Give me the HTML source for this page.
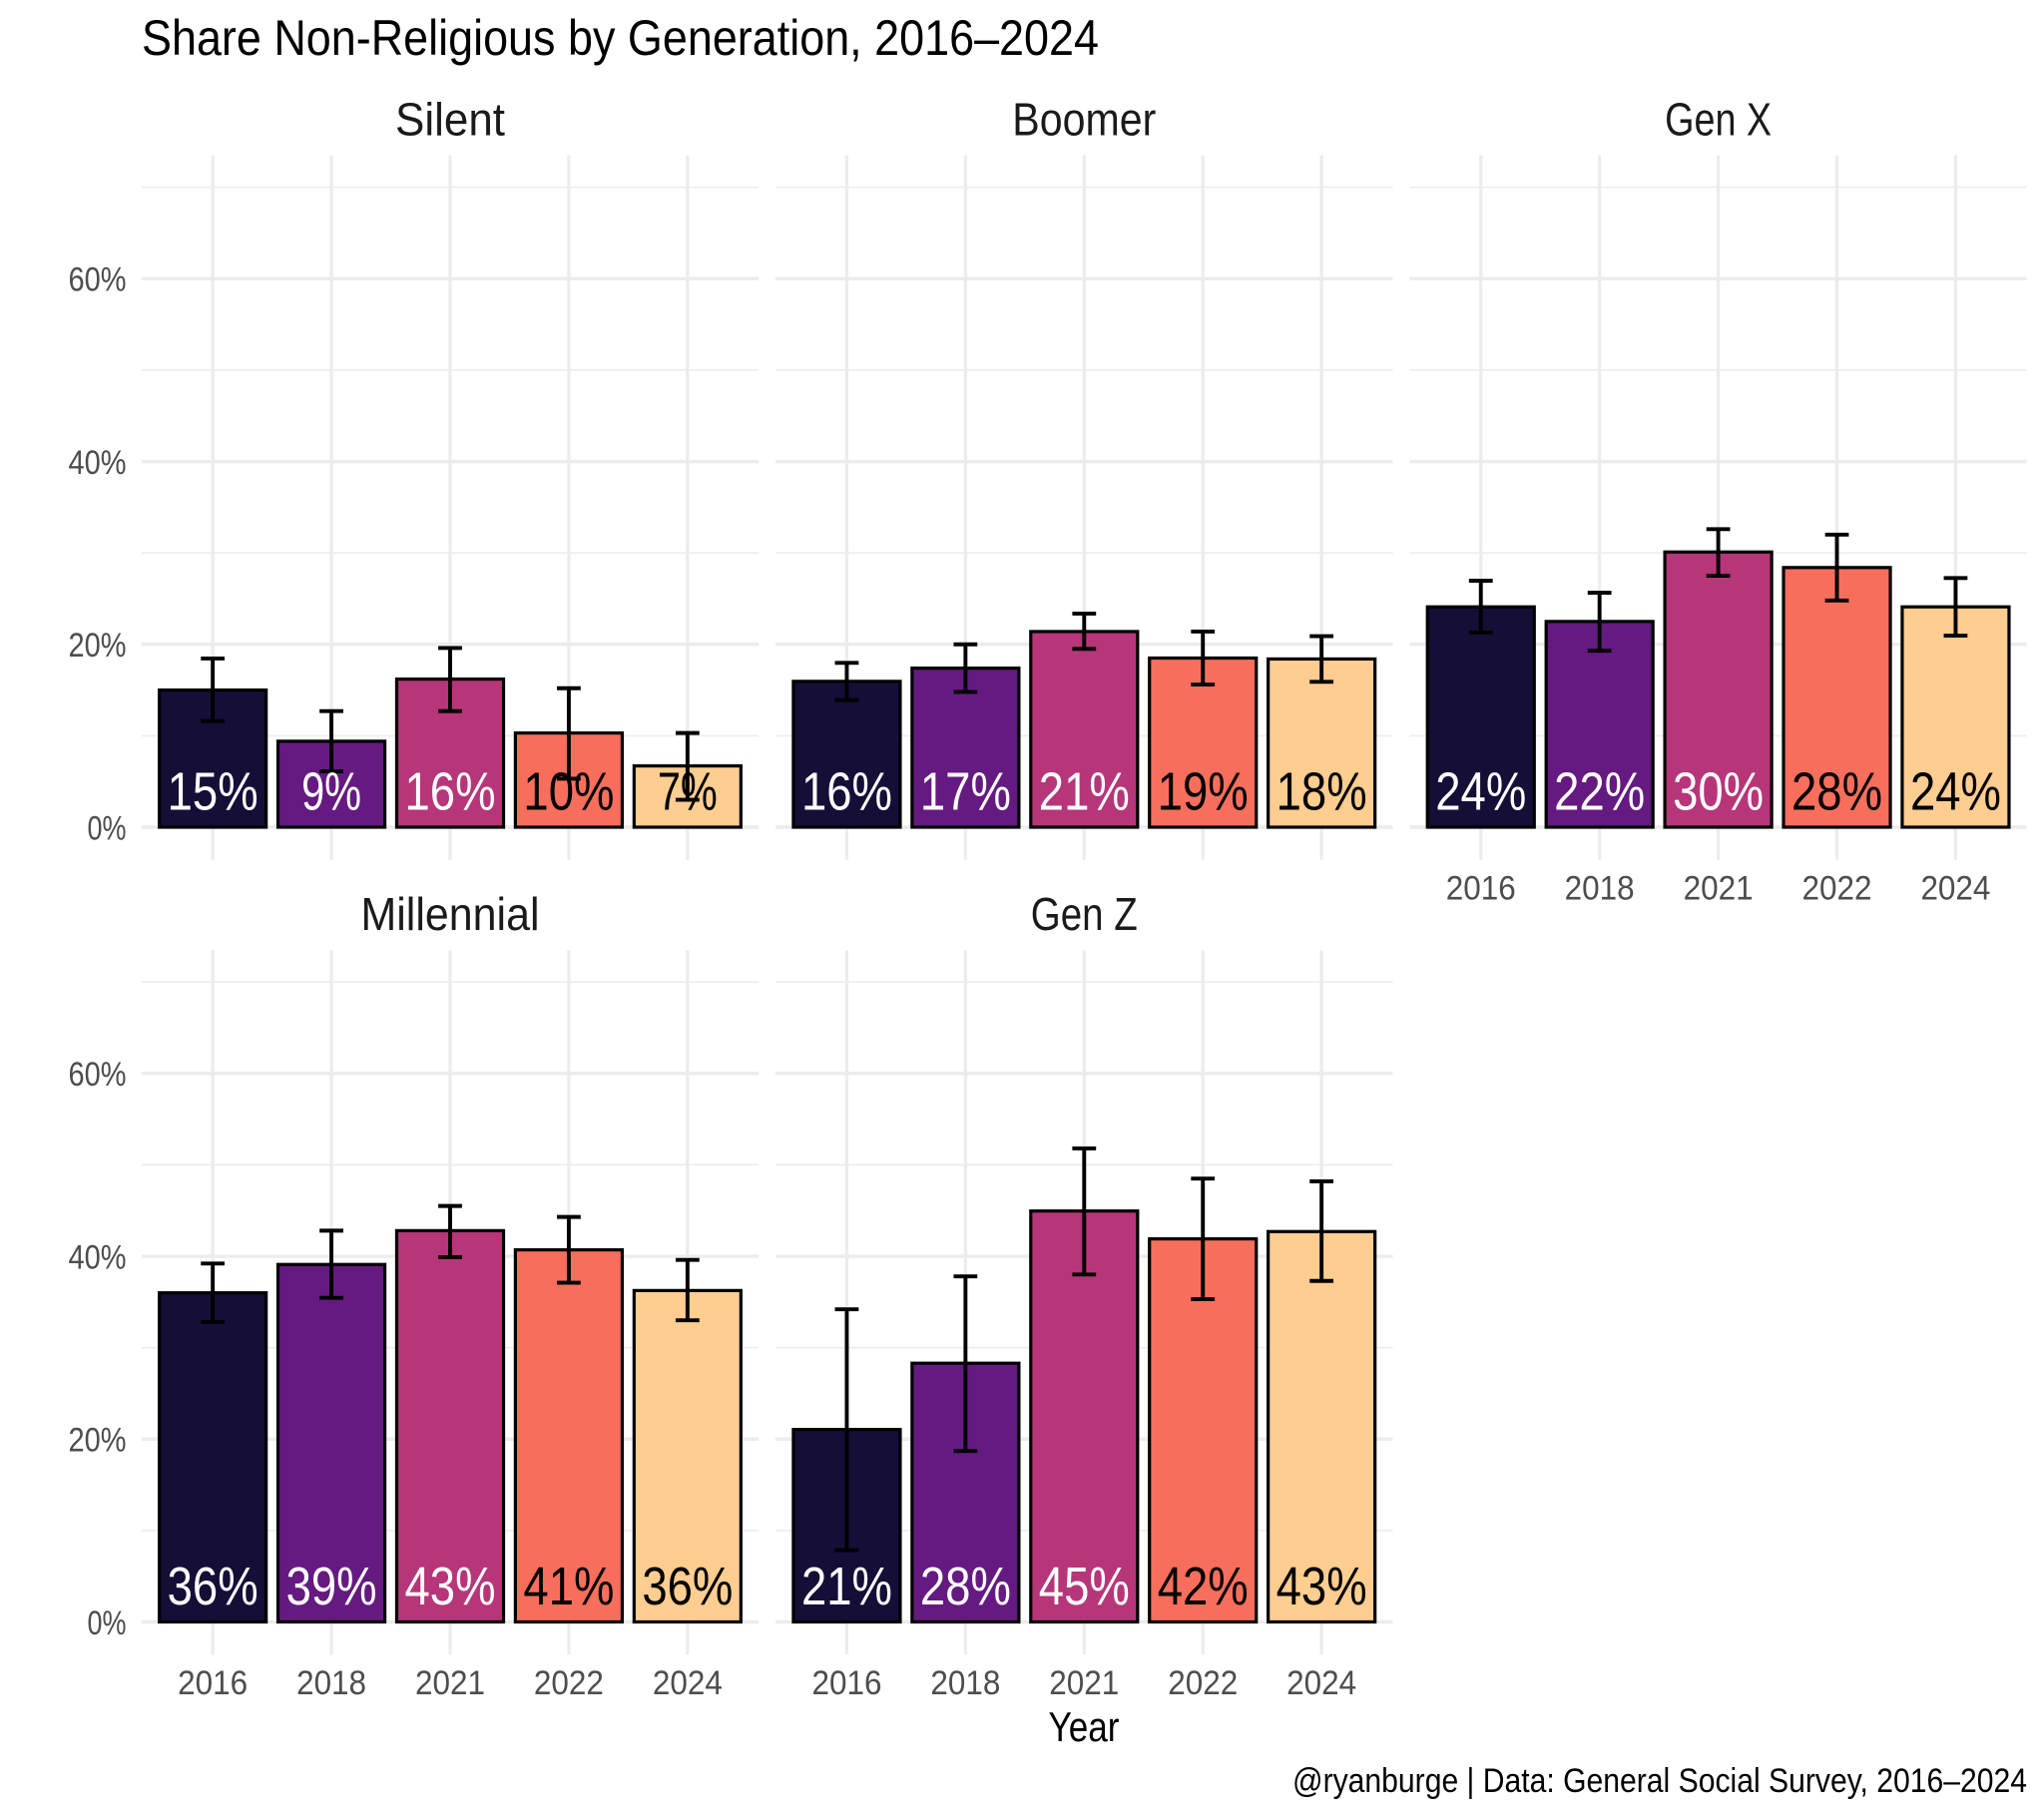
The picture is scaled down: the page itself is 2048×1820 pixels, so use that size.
<!DOCTYPE html>
<html lang="en">
<head>
<meta charset="utf-8">
<title>Share Non-Religious by Generation, 2016–2024</title>
<style>
html,body{margin:0;padding:0;background:#fff;width:2048px;height:1820px;overflow:hidden}
svg{display:block;font-family:"Liberation Sans",sans-serif}
</style>
</head>
<body>
<svg id="chart" xmlns="http://www.w3.org/2000/svg" width="2048" height="1820" viewBox="0 0 2048 1820">
  <rect x="0" y="0" width="2048" height="1820" fill="#ffffff"/>
  <text x="142" y="55" font-size="50" fill="#000000" textLength="959" lengthAdjust="spacingAndGlyphs">Share Non-Religious by Generation, 2016–2024</text>
  <text x="1086" y="1745" font-size="42" fill="#000000" text-anchor="middle" textLength="71" lengthAdjust="spacingAndGlyphs">Year</text>
  <text x="1295" y="1796" font-size="34" fill="#000000" textLength="736" lengthAdjust="spacingAndGlyphs">@ryanburge | Data: General Social Survey, 2016–2024</text>
  <g id="panels"></g>
</svg>
<script>
const years = ['2016', '2018', '2021', '2022', '2024'];
const yMajorTicks = [0, 20, 40, 60];
const yMinorTicks = [10, 30, 50, 70];
const yTickLabels = ['0%', '20%', '40%', '60%'];

const silentValues = [15.0, 9.4, 16.2, 10.3, 6.7];
const silentLower = [11.6, 6.1, 12.7, 5.3, 3.0];
const silentUpper = [18.45, 12.7, 19.6, 15.2, 10.3];
const silentLabels = ['15%', '9%', '16%', '10%', '7%'];

const boomerValues = [15.95, 17.4, 21.4, 18.5, 18.4];
const boomerLower = [13.9, 14.8, 19.5, 15.6, 15.9];
const boomerUpper = [17.97, 20.0, 23.36, 21.4, 20.9];
const boomerLabels = ['16%', '17%', '21%', '19%', '18%'];

const genXValues = [24.1, 22.5, 30.1, 28.4, 24.1];
const genXLower = [21.3, 19.3, 27.5, 24.8, 20.95];
const genXUpper = [26.96, 25.65, 32.6, 32.0, 27.25];
const genXLabels = ['24%', '22%', '30%', '28%', '24%'];

const millennialValues = [36.0, 39.1, 42.8, 40.7, 36.25];
const millennialLower = [32.8, 35.45, 39.9, 37.1, 33.0];
const millennialUpper = [39.2, 42.8, 45.5, 44.3, 39.6];
const millennialLabels = ['36%', '39%', '43%', '41%', '36%'];

const genZValues = [21.05, 28.3, 44.95, 41.9, 42.7];
const genZLower = [7.85, 18.7, 38.0, 35.3, 37.3];
const genZUpper = [34.2, 37.8, 51.8, 48.5, 48.2];
const genZLabels = ['21%', '28%', '45%', '42%', '43%'];

const generationNames = ['Silent', 'Boomer', 'Gen X', 'Millennial', 'Gen Z'];
const valueSeries = [silentValues, boomerValues, genXValues, millennialValues, genZValues];
const lowerSeries = [silentLower, boomerLower, genXLower, millennialLower, genZLower];
const upperSeries = [silentUpper, boomerUpper, genXUpper, millennialUpper, genZUpper];
const labelSeries = [silentLabels, boomerLabels, genXLabels, millennialLabels, genZLabels];

const barColors = ['#150e37', '#641a80', '#b63679', '#f76f5c', '#fecd90'];
const labelColors = ['#ffffff', '#ffffff', '#ffffff', '#000000', '#000000'];

const SVG_NS = 'http://www.w3.org/2000/svg';
const root = document.getElementById('panels');
const PANEL_W = 618.4, COL_STEP = 635.3, ROW_STEP = 796.5;
const LEFT0 = 141.8, TOP0 = 155.7, PANEL_H = 706, ZERO0 = 829, PX_PER_PCT = 9.162;
const BAND = PANEL_W / 5.2;

function xScale(col, k) { return LEFT0 + col * COL_STEP + (k + 0.6) * BAND; }
function yScale(row, v) { return ZERO0 + row * ROW_STEP - v * PX_PER_PCT; }

function node(tag, name, attrs, parent) {
  const el = document.createElementNS(SVG_NS, tag);
  
  
  for (const key in attrs) { el.setAttribute(key, attrs[key]); }
  parent.appendChild(el);
  return el;
}
function labelWidth(s, digitW, pctW) { return digitW * (s.length - 1) + pctW; }

generationNames.forEach(function (gen, p) {
  const col = p % 3, row = Math.floor(p / 3);
  const slug = gen.toLowerCase().replace(/\s+/g, '-');
  const left = LEFT0 + col * COL_STEP;
  const top = TOP0 + row * ROW_STEP;
  const g = node('g', 'panel-' + slug, {}, root);

  const strip = node('text', 'panel-title-' + slug, {
    x: left + PANEL_W / 2, y: 135.5 + row * ROW_STEP, 'font-size': 46, fill: '#1a1a1a',
    'text-anchor': 'middle', textLength: [110, 144, 107, 179, 107][p], lengthAdjust: 'spacingAndGlyphs'
  }, g);
  strip.textContent = gen;

  yMinorTicks.forEach(function (t) {
    node('line', 'minor-gridline-' + t, { x1: left, x2: left + PANEL_W, y1: yScale(row, t), y2: yScale(row, t), stroke: '#eeeeee', 'stroke-width': 1.8 }, g);
  });
  yMajorTicks.forEach(function (t) {
    node('line', 'major-gridline-' + t, { x1: left, x2: left + PANEL_W, y1: yScale(row, t), y2: yScale(row, t), stroke: '#ececec', 'stroke-width': 3.4 }, g);
  });
  years.forEach(function (yr, k) {
    node('line', 'vertical-gridline-' + yr, { x1: xScale(col, k), x2: xScale(col, k), y1: top, y2: top + PANEL_H, stroke: '#ececec', 'stroke-width': 3.2 }, g);
  });

  if (col === 0) {
    yMajorTicks.forEach(function (t, i) {
      const s = yTickLabels[i];
      const lab = node('text', 'y-tick-label-' + t, {
        x: 126.5, y: yScale(row, t) + 12.3, 'font-size': 34, fill: '#4d4d4d', 'text-anchor': 'end',
        textLength: labelWidth(s, 19, 20), lengthAdjust: 'spacingAndGlyphs'
      }, g);
      lab.textContent = s;
    });
  }
  if (p >= 2) {
    years.forEach(function (yr, k) {
      const lab = node('text', 'x-tick-label-' + yr, {
        x: xScale(col, k), y: 901.7 + row * ROW_STEP, 'font-size': 34, fill: '#4d4d4d', 'text-anchor': 'middle',
        textLength: 70, lengthAdjust: 'spacingAndGlyphs'
      }, g);
      lab.textContent = yr;
    });
  }

  years.forEach(function (yr, k) {
    const v = valueSeries[p][k];
    const cx = xScale(col, k);
    const w = BAND * 0.9;
    node('rect', 'bar-' + slug + '-' + yr, {
      x: cx - w / 2, y: yScale(row, v), width: w, height: yScale(row, 0) - yScale(row, v),
      fill: barColors[k], stroke: '#000000', 'stroke-width': 3.2
    }, g);
  });

  years.forEach(function (yr, k) {
    const cx = xScale(col, k);
    const capW = BAND * 0.2;
    const yLo = yScale(row, lowerSeries[p][k]);
    const yHi = yScale(row, upperSeries[p][k]);
    const eb = node('g', 'error-bar-' + slug + '-' + yr, { stroke: '#000000', 'stroke-width': 3.9, fill: 'none' }, g);
    node('line', 'error-bar-stem', { x1: cx, x2: cx, y1: yHi, y2: yLo }, eb);
    node('line', 'error-bar-upper-cap', { x1: cx - capW / 2, x2: cx + capW / 2, y1: yHi, y2: yHi }, eb);
    node('line', 'error-bar-lower-cap', { x1: cx - capW / 2, x2: cx + capW / 2, y1: yLo, y2: yLo }, eb);
  });

  years.forEach(function (yr, k) {
    const s = labelSeries[p][k];
    const lab = node('text', 'value-label-' + slug + '-' + yr, {
      x: xScale(col, k), y: yScale(row, 0) - 17.5, 'font-size': 54, fill: labelColors[k], 'text-anchor': 'middle',
      textLength: labelWidth(s, 31, 29), lengthAdjust: 'spacingAndGlyphs'
    }, g);
    lab.textContent = s;
  });
});
</script>
</body>
</html>
